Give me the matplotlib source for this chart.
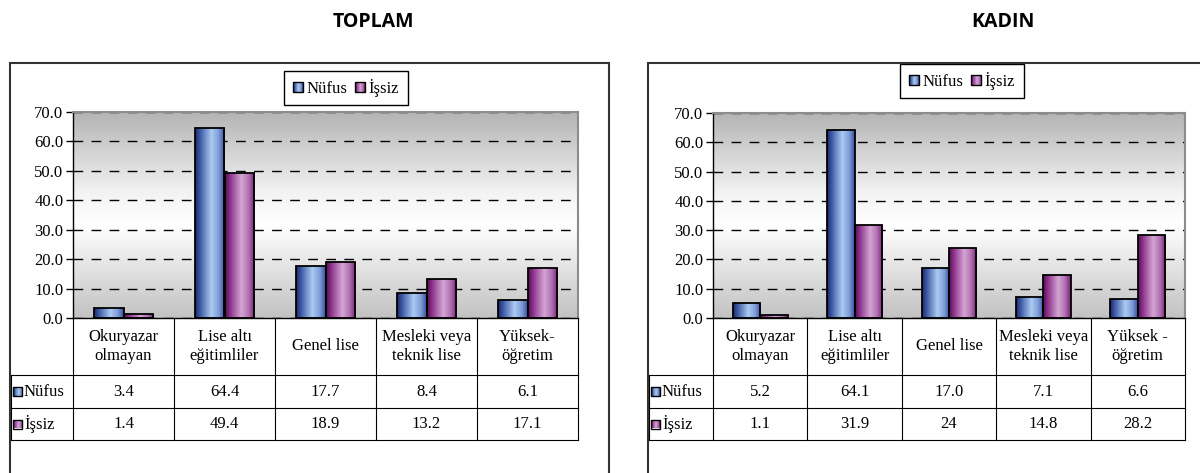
import numpy as np
import matplotlib
matplotlib.use('Agg')
import matplotlib.pyplot as plt
from matplotlib.colors import LinearSegmentedColormap
from matplotlib.patches import Rectangle, Patch
from matplotlib.transforms import blended_transform_factory

plt.rcParams['font.family'] = ['Liberation Serif', 'DejaVu Serif']

W, H = 1200, 473

# ---- data ----
series_names = ['Nüfus', 'İşsiz']
categories_toplam = ['Okuryazar\nolmayan', 'Lise altı\neğitimliler', 'Genel lise',
                     'Mesleki veya\nteknik lise', 'Yüksek-\nöğretim']
categories_kadin = ['Okuryazar\nolmayan', 'Lise altı\neğitimliler', 'Genel lise',
                    'Mesleki veya\nteknik lise', 'Yüksek -\nöğretim']
toplam_nufus = [3.4, 64.4, 17.7, 8.4, 6.1]
toplam_issiz = [1.4, 49.4, 18.9, 13.2, 17.1]
kadin_nufus = [5.2, 64.1, 17.0, 7.1, 6.6]
kadin_issiz = [1.1, 31.9, 24, 14.8, 28.2]
yticks = [0, 10, 20, 30, 40, 50, 60, 70]

# ---- colours ----
blue_cmap = LinearSegmentedColormap.from_list(
    'blue', [(0, '#1c2a6a'), (0.15, '#3a55a2'), (0.55, '#aacbf2'), (0.8, '#7f9cd8'), (1, '#3a4f9a')])
purple_cmap = LinearSegmentedColormap.from_list(
    'purple', [(0, '#540f52'), (0.15, '#8a2e88'), (0.55, '#d4a6d4'), (0.8, '#b070b0'), (1, '#782276')])
bg_cmap = LinearSegmentedColormap.from_list(
    'bg', [(0, '#c2c2c2'), (0.45, '#ffffff'), (0.6, '#f4f4f4'), (1, '#b4b4b4')])


def fx(x):
    return x / W


def fy(y):
    return 1 - y / H


def fmt(v):
    return str(v) if isinstance(v, int) else '%.1f' % v


def gradient_square(ax, x0, y0, w, h, cmap, tr, z=5):
    """small shaded legend square"""
    sq = Rectangle((x0, y0), w, h, transform=tr, facecolor='none', edgecolor='black',
                   lw=1, clip_on=False, zorder=z + 0.5)
    ax.add_patch(sq)
    im = ax.imshow(np.linspace(0, 1, 32).reshape(1, -1), cmap=cmap, aspect='auto',
                   extent=[x0, x0 + w, y0, y0 + h], transform=tr, zorder=z)
    im.set_clip_path(sq)


def draw_panel(fig, box, plot, title, title_x, cats, nufus, issiz, legend_c):
    # outer frame
    bl, bt, br = box
    fig.patches.append(Rectangle((fx(bl), fy(H + 10)), (br - bl) / W, (H + 10 - bt) / H,
                                 transform=fig.transFigure, fill=False,
                                 edgecolor='#333333', lw=1.5))
    fig.text(fx(title_x), fy(22), title, ha='center', va='center',
             fontsize=14, fontweight='bold', family='Open Sans')

    left, top, right, bottom = plot
    ax = fig.add_axes([fx(left), fy(bottom), (right - left) / W, (bottom - top) / H])
    n = len(cats)
    x = np.arange(n)
    ax.set_xlim(-0.5, n - 0.5)
    ax.set_ylim(0, 70)
    ax.set_autoscale_on(False)

    # gradient background
    ax.imshow(np.linspace(0, 1, 256).reshape(-1, 1), extent=[-0.5, n - 0.5, 0, 70],
              origin='lower', cmap=bg_cmap, aspect='auto', zorder=0)

    w = 0.29
    for vals, off, cmap in [(nufus, -w / 2, blue_cmap), (issiz, w / 2, purple_cmap)]:
        bars = ax.bar(x + off, vals, w, facecolor='none', edgecolor='black', lw=1.3, zorder=3)
        grad = np.linspace(0, 1, 64).reshape(1, -1)
        for b in bars:
            im = ax.imshow(grad, cmap=cmap, aspect='auto', zorder=2.5,
                           extent=[b.get_x(), b.get_x() + b.get_width(), 0, b.get_height()])
            im.set_clip_path(b)

    ax.set_axisbelow(True)
    ax.yaxis.grid(True, color='black', lw=1, linestyle=(0, (7, 6)))
    ax.set_yticks(yticks)
    ax.set_yticklabels(['%.1f' % t for t in yticks])
    ax.tick_params(axis='y', labelsize=12, length=5, width=1, pad=2)
    ax.set_xticks([])
    for s in ['top', 'right']:
        ax.spines[s].set_color('#8c8c8c')
        ax.spines[s].set_linewidth(1.5)
    for s in ['left', 'bottom']:
        ax.spines[s].set_color('black')
        ax.spines[s].set_linewidth(1)

    # data table below the axis
    ah = bottom - top
    cw = (right - left) / n
    tr = blended_transform_factory(ax.transData, ax.transAxes)

    def ay(py):
        return -(py - bottom) / ah

    def dx(px):
        return -0.5 + (px - left) / cw

    rows = [bottom, 375, 408, 440]
    hl = dx(bl + 1)
    kw = dict(color='black', lw=0.8, transform=tr, clip_on=False)
    for r in rows[1:]:
        ax.plot([hl, n - 0.5], [ay(r), ay(r)], **kw)
    for b in np.arange(n + 1) - 0.5:
        ax.plot([b, b], [ay(rows[0]), ay(rows[-1])], **kw)
    ax.plot([hl, hl], [ay(rows[1]), ay(rows[-1])], **kw)

    for i, c in enumerate(cats):
        ax.text(i, ay((rows[0] + rows[1]) / 2), c, ha='center', va='center',
                fontsize=12, transform=tr, linespacing=1.25)
    for k, (name, vals, cmap) in enumerate(zip(series_names, [nufus, issiz],
                                               [blue_cmap, purple_cmap])):
        yc = ay((rows[k + 1] + rows[k + 2]) / 2)
        for i, v in enumerate(vals):
            ax.text(i, yc, fmt(v), ha='center', va='center', fontsize=12, transform=tr)
        gradient_square(ax, dx(bl + 3), yc - 4.5 / ah, 9 / cw, 9 / ah, cmap, tr)
        ax.text(dx(bl + 14), yc, name, ha='left', va='center', fontsize=12, transform=tr)

    # legend box with shaded squares
    handles = [Patch(facecolor='none', edgecolor='none') for k in range(2)]
    leg = ax.legend(handles, series_names, loc='center', ncol=2,
                    bbox_to_anchor=(fx(legend_c[0]), fy(legend_c[1])),
                    bbox_transform=fig.transFigure,
                    fontsize=12, handlelength=0.6, handleheight=0.6,
                    handletextpad=0.25, columnspacing=0.4, borderpad=0.5,
                    fancybox=False, framealpha=1, edgecolor='black')
    leg.get_frame().set_linewidth(1)
    fig.canvas.draw()
    inv = ax.transAxes.inverted()
    for hp, cmap in zip(leg.legend_handles, [blue_cmap, purple_cmap]):
        bb = hp.get_window_extent()
        (x0, y0), (x1, y1) = inv.transform([[bb.x0, bb.y0], [bb.x1, bb.y1]])
        gradient_square(ax, x0, y0, x1 - x0, y1 - y0, cmap, ax.transAxes, z=7)
    return ax


fig = plt.figure(figsize=(W / 100, H / 100), dpi=100)

draw_panel(fig, (10, 63, 609), (73, 112, 578, 318), 'TOPLAM', 373,
           categories_toplam, toplam_nufus, toplam_issiz, (346, 88))
draw_panel(fig, (648, 63, 1215), (713, 113, 1185, 318), 'KADIN', 1003,
           categories_kadin, kadin_nufus, kadin_issiz, (962, 81))

fig.savefig('out.png', dpi=100)
